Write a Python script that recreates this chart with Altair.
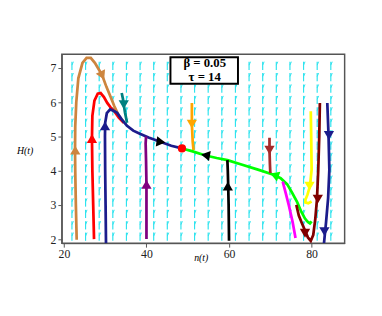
import altair as alt
import pandas as pd

# ---- trajectories (n, H) ----
traj = {
    "peru": ("#CD853F",
             [23.1, 22.9, 22.75, 22.7, 22.75, 23.0, 23.5, 24.5, 25.5, 26.5, 27.5, 28.5, 29.3, 30.3, 31.3, 32.2, 33.3, 34.5],
             [1.98, 3.0, 4.0, 4.6, 5.3, 6.0, 6.7, 7.15, 7.3, 7.3, 7.15, 6.95, 6.78, 6.45, 6.16, 5.89, 5.6, 5.42]),
    "red": ("#FF0000",
            [27.3, 27.1, 26.9, 26.8, 26.9, 27.4, 28.2, 28.9, 29.7, 30.5, 31.3, 32.2, 33.3, 34.5],
            [2.0, 3.0, 4.0, 4.94, 5.6, 6.05, 6.25, 6.27, 6.15, 5.98, 5.85, 5.74, 5.55, 5.4]),
    "navy": ("#1C1C8C",
             [30.2, 30.1, 30.0, 29.95, 30.0, 30.4, 31.2, 32.0, 32.9, 34.0, 35.3, 36.8, 38.4, 40.5, 43.5, 46.0, 48.6],
             [1.88, 3.0, 4.0, 5.0, 5.4, 5.68, 5.79, 5.75, 5.69, 5.5, 5.31, 5.17, 5.08, 4.97, 4.84, 4.73, 4.65]),
    "teal": ("#008080",
             [34.0, 34.3, 34.5, 34.8, 35.3],
             [6.27, 6.1, 5.93, 5.7, 5.4]),
    "purple": ("#800080",
               [40.0, 40.0, 40.0, 39.9, 39.8, 39.9],
               [2.0, 3.0, 3.6, 4.3, 4.8, 5.0]),
    "orange": ("#FFA500",
               [51.0, 51.0, 51.2, 51.4],
               [5.98, 5.36, 4.85, 4.6]),
    "green": ("#00FF00",
              [48.6, 51.0, 54.1, 57.0, 59.6, 63.0, 67.0, 70.6, 72.5, 74.1, 75.3, 76.5, 77.5, 78.4, 79.1, 79.6, 80.0],
              [4.65, 4.57, 4.45, 4.37, 4.31, 4.18, 4.03, 3.89, 3.78, 3.6, 3.35, 3.08, 2.8, 2.6, 2.5, 2.46, 2.52]),
    "magenta": ("#FF00FF",
                [76.1, 75.4, 74.5, 73.7, 73.0],
                [2.03, 2.5, 2.98, 3.36, 3.68]),
    "black": ("#000000",
              [60.0, 59.9, 59.8, 59.7, 59.6],
              [1.95, 3.0, 3.55, 4.0, 4.31]),
    "brown": ("#A52A2A",
              [69.8, 69.8, 69.9, 70.0],
              [4.96, 4.6, 4.2, 3.93]),
    "yellow": ("#FFFF00",
               [79.8, 79.9, 80.0, 79.6, 79.0, 78.5, 78.5, 79.2, 80.0],
               [5.74, 5.0, 4.03, 3.55, 3.3, 3.15, 3.07, 3.05, 3.1]),
    "maroon": ("#800000",
               [76.3, 76.9, 77.7, 78.4, 79.1, 79.8, 80.4, 80.9, 81.3, 81.6, 81.85, 82.0],
               [3.0, 2.69, 2.45, 2.25, 2.05, 1.95, 2.12, 2.6, 3.17, 4.0, 5.0, 5.98]),
    "navy2": ("#1C1C8C",
              [83.8, 84.1, 84.3, 84.0, 83.5, 83.0],
              [5.98, 5.03, 4.03, 3.2, 2.5, 1.88]),
}

# ---- arrowheads on trajectories ----
head_n = [22.75, 29.3, 26.8, 29.95, 34.5, 40.0, 43.5, 51.0, 54.3, 59.7, 69.8, 71.0, 79.5, 81.5, 78.4, 84.2, 83.1]
head_H = [4.6, 6.78, 4.94, 5.31, 5.93, 3.6, 4.84, 5.36, 4.45, 3.55, 4.6, 3.87, 3.55, 3.17, 2.17, 5.03, 2.22]
head_shape = ["triangle-up", "triangle-down", "triangle-up", "triangle-up", "triangle-down", "triangle-up",
              "triangle-right", "triangle-down", "triangle-left", "triangle-up", "triangle-down", "triangle-left",
              "triangle-down", "triangle-down", "triangle-down", "triangle-down", "triangle-down"]
head_angle = [0, 335, 0, 0, 0, 0, 8, 0, 10, 0, 0, 20, 0, 0, 0, 0, 0]
head_color = ["#CD853F", "#CD853F", "#FF0000", "#1C1C8C", "#008080", "#800080", "#000000", "#FFA500",
              "#000000", "#000000", "#A52A2A", "#00FF00", "#FFFF00", "#800000", "#800000", "#1C1C8C", "#1C1C8C"]

# equilibrium point
eq_n = [48.6]
eq_H = [4.65]

# direction-field grid
field_cols = [21.95 + 3.3 * k for k in range(20)]
field_rows = [1.95 + 0.333 * j for j in range(16)]

box_lines = ["β = 0.05", "τ  =  14"]
x_ticks = [20, 40, 60, 80]
y_ticks = [2, 3, 4, 5, 6, 7]

XD = [19.5, 88]
YD = [1.88, 7.4]

rows = []
for name, (col, ns, hs) in traj.items():
    for i, (a, b) in enumerate(zip(ns, hs)):
        rows.append({"id": name, "color": col, "n": a, "H": b, "ord": i})
df_traj = pd.DataFrame(rows)

df_heads = pd.DataFrame({"n": head_n, "H": head_H, "shape": head_shape,
                         "ang": head_angle, "color": head_color})

frows = []
for c in field_cols:
    for r in field_rows:
        frows.append({"n": c, "H": r, "H2": r + 0.24, "nb": c + 0.35, "Hb": r + 0.14})
df_field = pd.DataFrame(frows)

xs = alt.Scale(domain=XD, nice=False, zero=False)
ys = alt.Scale(domain=YD, nice=False, zero=False)

xax = alt.Axis(values=x_ticks, title="n(t)", grid=False, titleAngle=0, titleX=142, titleY=15,
               titleFont="Liberation Serif", titleFontStyle="italic", titleFontWeight="normal",
               titleFontSize=10, titleBaseline="middle", labelFont="Liberation Serif",
               labelFontSize=12, labelColor="#222", tickSize=4, labelPadding=2,
               domainColor="#555", tickColor="#555", labelOverlap=False)
yax = alt.Axis(values=y_ticks, title="H(t)", grid=False, titleAngle=0, titleX=-38, titleY=98,
               titleFont="Liberation Serif", titleFontStyle="italic", titleFontWeight="normal",
               titleFontSize=10, titleAlign="center", titleBaseline="middle",
               labelFont="Liberation Serif", labelFontSize=12, labelColor="#222",
               tickSize=4, labelPadding=2, domainColor="#555", tickColor="#555", labelOverlap=False)

X = alt.X("n:Q", scale=xs, axis=xax)
Y = alt.Y("H:Q", scale=ys, axis=yax)

field = alt.Chart(df_field).mark_rule(color="#2EE3EE", strokeWidth=1.2).encode(
    x=X, y=Y, y2="H2:Q")
barbs = alt.Chart(df_field).mark_rule(color="#2EE3EE", strokeWidth=1.0).encode(
    x=X, y=alt.Y("Hb:Q", scale=ys, axis=yax), x2="nb:Q", y2="H2:Q")

lines = alt.Chart(df_traj).mark_line(strokeWidth=2.8, clip=True).encode(
    x=X, y=Y,
    color=alt.Color("color:N", scale=None), detail="id:N", order="ord:Q")

heads = alt.Chart(df_heads).mark_point(filled=True, opacity=1, size=110).encode(
    x=X, y=Y,
    shape=alt.Shape("shape:N", scale=None), angle=alt.Angle("ang:Q", scale=None),
    color=alt.Color("color:N", scale=None))

eq = alt.Chart(pd.DataFrame({"n": eq_n, "H": eq_H})).mark_point(
    filled=True, color="#FF0000", opacity=1, size=70, shape="circle").encode(x=X, y=Y)

box_df = pd.DataFrame({"t": [0]})
box = alt.Chart(box_df).mark_rect(fill="white", stroke="black", strokeWidth=2).encode(
    x=alt.value(111), x2=alt.value(180), y=alt.value(3), y2=alt.value(30))
t1 = alt.Chart(pd.DataFrame({"t": [box_lines[0]]})).mark_text(
    font="Liberation Serif", fontWeight="bold", fontSize=13, color="black").encode(
    x=alt.value(146), y=alt.value(9), text="t:N")
t2 = alt.Chart(pd.DataFrame({"t": [box_lines[1]]})).mark_text(
    font="Liberation Serif", fontWeight="bold", fontSize=13, color="black").encode(
    x=alt.value(146), y=alt.value(23.5), text="t:N")

chart = alt.layer(field, barbs, lines, heads, eq, box, t1, t2).properties(
    width=289, height=193,
    autosize=alt.AutoSizeParams(type="none"),
    padding={"left": 55, "top": 44, "right": 30, "bottom": 71},
).configure_view(stroke="#555", strokeWidth=1.5)

chart.save("out.html", embed_options={"renderer": "svg", "actions": False})
